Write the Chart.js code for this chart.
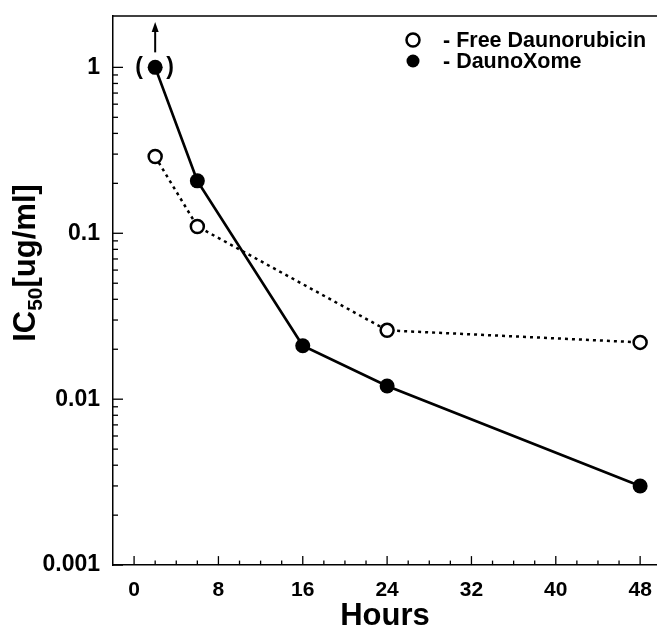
<!DOCTYPE html>
<html>
<head>
<meta charset="utf-8">
<script src="https://cdn.jsdelivr.net/npm/chart.js@4.4.1/dist/chart.umd.min.js"></script>
<style>
  html, body { margin: 0; padding: 0; background: #fff; }
  #wrap { width: 657px; height: 628px; position: relative; }
</style>
</head>
<body>
<div id="wrap"><canvas id="c" width="657" height="628"></canvas></div>
<script>
// ---- data ----
const freeHours = [2, 6, 24, 48];
const freeIC50 = [0.29, 0.11, 0.026, 0.022];
const dxHours = [2, 6, 16, 24, 48];
const dxIC50 = [1.0, 0.207, 0.021, 0.012, 0.003];
const seriesNames = ['- Free Daunorubicin', '- DaunoXome'];
const xTickValues = [0, 8, 16, 24, 32, 40, 48];
const xMinorValues = [0,2,4,6,8,10,12,14,16,18,20,22,24,26,28,30,32,34,36,38,40,42,44,46,48];
const yTickValues = [0.001, 0.01, 0.1, 1];
const yTickLabels = ['0.001', '0.01', '0.1', '1'];
const xTitle = 'Hours';
const yTitleMain = 'IC';
const yTitleSub = '50';
const yTitleRest = '[ug/ml]';

const FONT = "'Liberation Sans', Arial, Helvetica, sans-serif";

const pts = (xs, ys) => xs.map((x, i) => ({x: x, y: ys[i]}));

const framePlugin = {
  id: 'frame',
  afterDraw(chart) {
    const ctx = chart.ctx, a = chart.chartArea;
    const xs = chart.scales.x, ys = chart.scales.y;
    ctx.save();
    ctx.strokeStyle = '#000';
    ctx.lineWidth = 1.5;
    // top border
    ctx.beginPath(); ctx.moveTo(a.left, a.top); ctx.lineTo(a.right, a.top); ctx.stroke();
    // x ticks inward
    ctx.lineWidth = 1.3;
    xMinorValues.forEach(v => {
      const px = xs.getPixelForValue(v);
      const len = (v % 8 === 0) ? 9 : 4.5;
      ctx.beginPath(); ctx.moveTo(px, a.bottom); ctx.lineTo(px, a.bottom - len); ctx.stroke();
    });
    // y ticks inward (log)
    for (let e = -3; e <= 0; e++) {
      for (let m = 1; m <= 9; m++) {
        const v = m * Math.pow(10, e);
        if (v > 1.0001) continue;
        const py = ys.getPixelForValue(v);
        const len = (m === 1) ? 10 : 5;
        ctx.beginPath(); ctx.moveTo(a.left, py); ctx.lineTo(a.left + len, py); ctx.stroke();
      }
    }
    // arrow & parentheses around the first DaunoXome point
    const el = chart.getDatasetMeta(1).data[0];
    ctx.lineWidth = 2;
    ctx.beginPath(); ctx.moveTo(el.x, el.y - 15); ctx.lineTo(el.x, a.top + 13); ctx.stroke();
    ctx.fillStyle = '#000';
    ctx.beginPath();
    ctx.moveTo(el.x, a.top + 6);
    ctx.lineTo(el.x - 3.5, a.top + 16);
    ctx.lineTo(el.x + 3.5, a.top + 16);
    ctx.closePath(); ctx.fill();
    ctx.font = 'bold 23px ' + FONT;
    ctx.textAlign = 'center'; ctx.textBaseline = 'middle';
    ctx.fillText('(', el.x - 16, el.y);
    ctx.fillText(')', el.x + 15, el.y);
    // legend
    const lx = 413, ly = [40, 61];
    chart.data.datasets.forEach((ds, i) => {
      ctx.beginPath();
      ctx.arc(lx, ly[i], 6.5, 0, Math.PI * 2);
      if (i === 0) { ctx.fillStyle = '#fff'; ctx.fill(); ctx.lineWidth = 2.5; ctx.stroke(); }
      else { ctx.fillStyle = '#000'; ctx.fill(); }
      ctx.fillStyle = '#000';
      ctx.font = 'bold 21.5px ' + FONT;
      ctx.textAlign = 'left'; ctx.textBaseline = 'middle';
      ctx.fillText(ds.label, 443, ly[i] + 1);
    });
    // y title with subscript
    ctx.save();
    ctx.translate(35, 263);
    ctx.rotate(-Math.PI / 2);
    const big = 'bold 31px ' + FONT, small = 'bold 21px ' + FONT;
    ctx.font = big; const w1 = ctx.measureText(yTitleMain).width;
    const w3 = ctx.measureText(yTitleRest).width;
    ctx.font = small; const w2 = ctx.measureText(yTitleSub).width;
    let x0 = -(w1 + w2 + w3) / 2;
    ctx.textAlign = 'left'; ctx.textBaseline = 'alphabetic';
    ctx.font = big; ctx.fillText(yTitleMain, x0, 0);
    ctx.font = small; ctx.fillText(yTitleSub, x0 + w1, 7);
    ctx.font = big; ctx.fillText(yTitleRest, x0 + w1 + w2, 0);
    ctx.restore();
    ctx.restore();
  }
};

new Chart(document.getElementById('c'), {
  type: 'line',
  data: {
    datasets: [
      {
        label: seriesNames[0],
        data: pts(freeHours, freeIC50),
        borderColor: '#000', borderWidth: 2.5, borderDash: [3, 4],
        pointStyle: 'circle', pointRadius: 6.5, pointBorderWidth: 2.5,
        pointBackgroundColor: '#fff', pointBorderColor: '#000',
        tension: 0, fill: false
      },
      {
        label: seriesNames[1],
        data: pts(dxHours, dxIC50),
        borderColor: '#000', borderWidth: 2.7,
        pointStyle: 'circle', pointRadius: 7.5, pointBorderWidth: 0,
        pointBackgroundColor: '#000', pointBorderColor: '#000',
        tension: 0, fill: false
      }
    ]
  },
  options: {
    responsive: false,
    animation: false,
    devicePixelRatio: 1,
    layout: { autoPadding: false, padding: { left: 0, right: 0, top: 16, bottom: -5.5 } },
    plugins: { legend: { display: false }, tooltip: { enabled: false } },
    scales: {
      x: {
        type: 'linear',
        min: -2, max: 49.6,
        afterBuildTicks: (ax) => { ax.ticks = xTickValues.map(v => ({value: v})); },
        afterFit: (ax) => { ax.paddingLeft = 0; ax.paddingRight = 0; },
        ticks: { color: '#000', font: { family: FONT, size: 21, weight: 'bold' }, padding: 13, maxRotation: 0, autoSkip: false },
        grid: { display: false, drawOnChartArea: false, drawTicks: false },
        border: { display: true, color: '#000', width: 1.5 },
        title: { display: true, text: xTitle, color: '#000', font: { family: FONT, size: 31, weight: 'bold' }, padding: { top: -18.5, bottom: -1.5 } }
      },
      y: {
        type: 'logarithmic',
        min: 0.001, max: 2.04,
        afterBuildTicks: (ax) => { ax.ticks = yTickValues.map(v => ({value: v})); },
        afterFit: (ax) => { ax.width = 113; ax.paddingTop = 0; ax.paddingBottom = 0; },
        ticks: { color: '#000', font: { family: FONT, size: 23, weight: 'bold' }, padding: 13,
                 callback: (v) => { const i = yTickValues.findIndex(t => Math.abs(t - v) / t < 1e-6); return i >= 0 ? yTickLabels[i] : ''; } },
        grid: { display: false, drawOnChartArea: false, drawTicks: false },
        border: { display: true, color: '#000', width: 1.5 }
      }
    }
  },
  plugins: [framePlugin]
});
</script>
</body>
</html>
